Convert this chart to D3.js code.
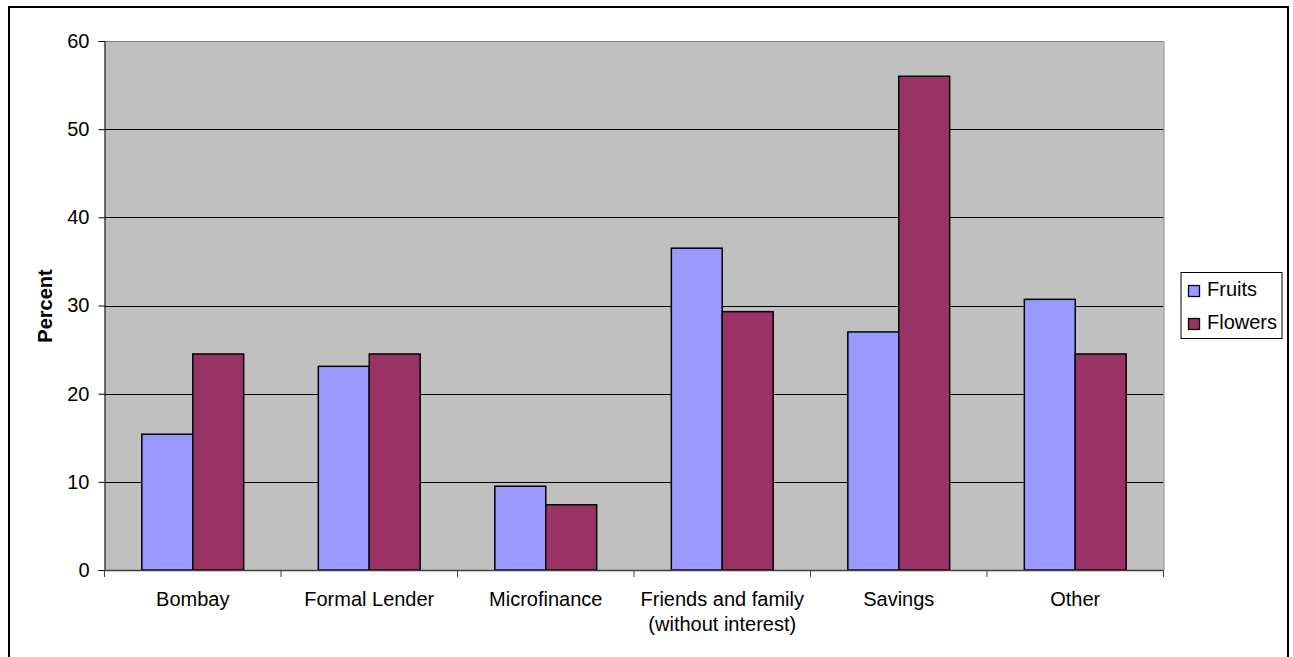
<!DOCTYPE html>
<html><head><meta charset="utf-8">
<script src="https://d3js.org/d3.v7.min.js"></script>
<style>body{margin:0;background:#fff;} svg{display:block;font-family:"Liberation Sans",Arial,sans-serif;}</style>
</head><body>
<script>
const categories = [["Bombay"],["Formal Lender"],["Microfinance"],["Friends and family","(without interest)"],["Savings"],["Other"]];
const seriesNames = ["Fruits","Flowers"];
const fruits = [15.4, 23.1, 9.5, 36.5, 27.0, 30.7];
const flowers = [24.5, 24.5, 7.4, 29.3, 56.0, 24.5];
const colors = ["#9999FF","#993366"];
const yTicks = [0,10,20,30,40,50,60];

const W=1293,H=657;
const FS=20;
const svg=d3.select("body").append("svg").attr("width",W).attr("height",H);
// outer frame
svg.append("rect").attr("x",9).attr("y",7).attr("width",1279).attr("height",660)
  .attr("fill","#fff").attr("stroke","#000").attr("stroke-width",2);

const L=104.5,R=1163.5,T=41,B=570;
const x=d3.scaleBand().domain(d3.range(categories.length)).range([L,R]).paddingInner(0).paddingOuter(0);
const y=d3.scaleLinear().domain([0,60]).range([B,T]);
const bw=x.bandwidth();
const barW=bw*0.2885;
const x1=d3.scaleBand().domain([0,1]).range([0,barW*2]);

svg.append("rect").attr("x",L).attr("y",T).attr("width",R-L).attr("height",B-T).attr("fill","#C0C0C0");
// gridlines
svg.append("g").selectAll("line").data(yTicks.filter(d=>d>0)).join("line")
  .attr("x1",L).attr("x2",R).attr("y1",d=>Math.round(y(d))+0.5).attr("y2",d=>Math.round(y(d))+0.5)
  .attr("stroke",d=>d===60?"#808080":"#000").attr("stroke-width",1);
svg.append("line").attr("x1",R+0.5).attr("x2",R+0.5).attr("y1",T).attr("y2",B).attr("stroke","#808080");

const data=[fruits,flowers];
const g=svg.append("g");
categories.forEach((c,i)=>{
  data.forEach((s,k)=>{
    const x0=x(i)+(bw-barW*2)/2+x1(k);
    g.append("rect").attr("x",x0).attr("y",y(s[i])).attr("width",x1.bandwidth()).attr("height",y(0)-y(s[i]))
     .attr("fill",colors[k]).attr("stroke","#000").attr("stroke-width",1.5);
  });
});

// y axis
const ya=d3.axisLeft(y).tickValues(yTicks).tickSize(6).tickPadding(9);
const yg=svg.append("g").attr("transform",`translate(${L},0)`).call(ya);
yg.select(".domain").attr("stroke","#000");
yg.selectAll("line").attr("stroke","#000");
yg.selectAll("text").attr("font-size",FS).attr("fill","#000").attr("font-family","Liberation Sans, Arial, sans-serif");

// x axis
const xa=d3.axisBottom(x).tickSize(0).tickFormat("");
const xg=svg.append("g").attr("transform",`translate(0,${B})`).call(xa);
xg.select(".domain").attr("stroke","#404040").attr("stroke-width",1.5);
svg.append("g").selectAll("line").data(d3.range(categories.length+1)).join("line")
  .attr("x1",d=>L+d*bw).attr("x2",d=>L+d*bw).attr("y1",B).attr("y2",B+7).attr("stroke","#404040");
categories.forEach((c,i)=>{
  const t=svg.append("text").attr("x",x(i)+bw/2).attr("y",606).attr("text-anchor","middle")
    .attr("font-size",FS).attr("fill","#000");
  c.forEach((ln,j)=>t.append("tspan").attr("x",x(i)+bw/2).attr("dy",j===0?0:25).text(ln));
});

// y label
svg.append("text").attr("transform","translate(52,306) rotate(-90)").attr("text-anchor","middle")
  .attr("font-size",FS).attr("font-weight","bold").text("Percent");

// legend
const lg=svg.append("g");
lg.append("rect").attr("x",1181).attr("y",272.5).attr("width",101).attr("height",66).attr("fill","#fff").attr("stroke","#000").attr("stroke-width",1);
seriesNames.forEach((n,k)=>{
  const top=[285.5,318.5][k];
  lg.append("rect").attr("x",1188.5).attr("y",top).attr("width",11).attr("height",11).attr("fill",colors[k]).attr("stroke","#000").attr("stroke-width",1.3);
  lg.append("text").attr("x",1207).attr("y",[296,329][k]).attr("font-size",FS).attr("fill","#000").text(n);
});
</script>
</body></html>
